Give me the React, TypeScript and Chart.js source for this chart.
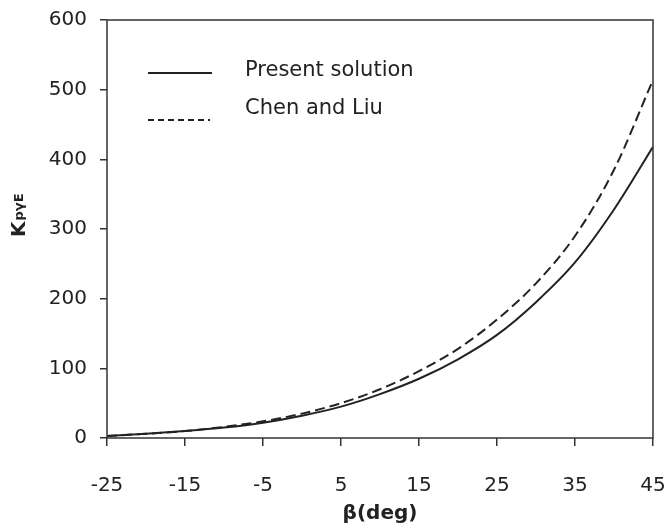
import React, { useEffect, useRef } from "react";
import { Chart, registerables } from "chart.js";

Chart.register(...registerables);

const betaDeg = [-25, -20, -15, -10, -5, 0, 5, 10, 15, 20, 25, 30, 35, 40, 45];
const presentSolution = [3, 6, 10, 15, 22, 32, 45, 63, 85, 113, 148, 195, 252, 328, 418];
const chenAndLiu = [3, 6, 10, 16, 24, 35, 50, 70, 96, 128, 170, 222, 290, 385, 514];
const xTickValues = [-25, -15, -5, 5, 15, 25, 35, 45];
const yTickValues = [0, 100, 200, 300, 400, 500, 600];
const seriesNames = ["Present solution", "Chen and Liu"];
const xTitle = "β(deg)";
const yTitleMain = "K";
const yTitleSub = "pγE";

const FONT = "'DejaVu Sans', sans-serif";
const INK = "#222";

const framePlugin = {
  id: "frameAndLabels",
  afterDraw(chart: any) {
    const { ctx, chartArea } = chart;
    const { left, right, top, bottom } = chartArea;
    ctx.save();
    ctx.strokeStyle = "#333";
    ctx.lineWidth = 1.5;
    ctx.strokeRect(left, top, right - left, bottom - top);

    ctx.fillStyle = INK;
    ctx.strokeStyle = INK;
    ctx.lineWidth = 1.8;
    ctx.setLineDash([]);
    ctx.beginPath();
    ctx.moveTo(148, 73);
    ctx.lineTo(212, 73);
    ctx.stroke();
    ctx.setLineDash([6, 4]);
    ctx.beginPath();
    ctx.moveTo(148, 120);
    ctx.lineTo(210, 120);
    ctx.stroke();
    ctx.setLineDash([]);
    ctx.font = `21px ${FONT}`;
    ctx.textBaseline = "alphabetic";
    ctx.textAlign = "left";
    ctx.fillText(seriesNames[0], 245, 76);
    ctx.fillText(seriesNames[1], 245, 114);

    ctx.translate(25, 237);
    ctx.rotate(-Math.PI / 2);
    ctx.font = `bold 20px ${FONT}`;
    ctx.fillText(yTitleMain, 0, 0);
    const w = ctx.measureText(yTitleMain).width;
    ctx.font = `bold 13px ${FONT}`;
    ctx.fillText(yTitleSub, w + 1, -2);
    ctx.restore();
  },
};

export default function App() {
  const ref = useRef<HTMLCanvasElement | null>(null);

  useEffect(() => {
    const canvas = ref.current;
    if (!canvas) return;
    const chart = new Chart(canvas, {
      type: "line",
      data: {
        datasets: [
          {
            label: seriesNames[0],
            data: betaDeg.map((x, i) => ({ x, y: presentSolution[i] })),
            borderColor: INK,
            borderWidth: 2,
            pointRadius: 0,
            cubicInterpolationMode: "monotone",
            fill: false,
          },
          {
            label: seriesNames[1],
            data: betaDeg.map((x, i) => ({ x, y: chenAndLiu[i] })),
            borderColor: INK,
            borderWidth: 2,
            borderDash: [10, 5],
            pointRadius: 0,
            cubicInterpolationMode: "monotone",
            fill: false,
          },
        ],
      },
      options: {
        animation: false,
        responsive: false,
        devicePixelRatio: 1,
        layout: { padding: { left: 0, right: 14, top: 20, bottom: 0 } },
        plugins: {
          legend: { display: false },
          tooltip: { enabled: false },
        },
        scales: {
          x: {
            type: "linear",
            min: -25,
            max: 45,
            afterBuildTicks: (scale: any) => {
              scale.ticks = xTickValues.map((v) => ({ value: v }));
            },
            afterFit: (scale: any) => {
              scale.height = 94;
              scale.paddingLeft = 0;
              scale.paddingRight = 0;
            },
            grid: {
              display: true,
              drawOnChartArea: false,
              drawTicks: true,
              tickLength: 8,
              color: "#333",
              lineWidth: 1.5,
            },
            border: { display: false },
            ticks: {
              color: INK,
              font: { family: FONT, size: 20 },
              padding: 28,
              maxRotation: 0,
              autoSkip: false,
            },
            title: {
              display: true,
              text: xTitle,
              color: INK,
              font: { family: FONT, size: 20, weight: "bold" },
              padding: { top: 0, bottom: 6 },
            },
          },
          y: {
            type: "linear",
            min: 0,
            max: 600,
            afterBuildTicks: (scale: any) => {
              scale.ticks = yTickValues.map((v) => ({ value: v }));
            },
            afterFit: (scale: any) => {
              scale.width = 107;
              scale.paddingTop = 0;
              scale.paddingBottom = 0;
            },
            grid: {
              display: true,
              drawOnChartArea: false,
              drawTicks: true,
              tickLength: 7,
              color: "#333",
              lineWidth: 1.5,
            },
            border: { display: false },
            ticks: {
              color: INK,
              font: { family: FONT, size: 20 },
              padding: 13,
            },
          },
        },
      },
      plugins: [framePlugin],
    } as any);
    return () => chart.destroy();
  }, []);

  return (
    <div style={{ position: "fixed", left: 0, top: 0, width: 667, height: 532, background: "#fff" }}>
      <canvas ref={ref} width={667} height={532} style={{ display: "block" }} />
    </div>
  );
}
